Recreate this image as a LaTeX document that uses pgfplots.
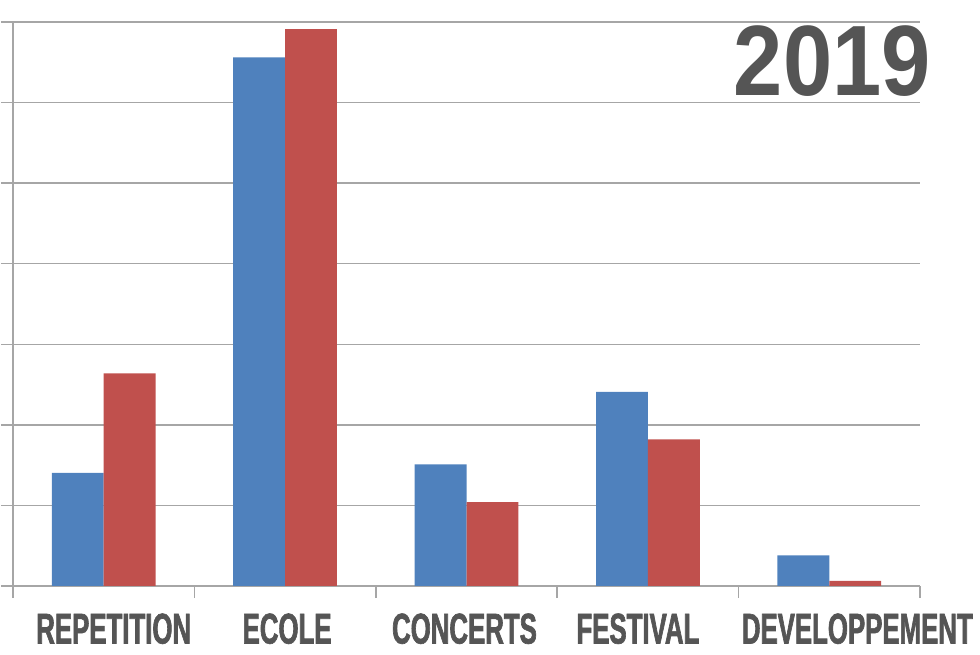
\documentclass[border=0pt]{standalone}
\usepackage{pgfplots}
\pgfplotsset{compat=1.18}
\usepackage{fontspec}
\setmainfont{Liberation Sans}
\newfontfamily\labelfont[FakeStretch=0.6, FakeBold=1.5]{Liberation Sans Bold}
\newfontfamily\titlefont[FakeStretch=0.885]{Liberation Sans}
\definecolor{barblue}{HTML}{4F81BD}
\definecolor{barred}{HTML}{C0504D}
\definecolor{txt}{HTML}{555555}
\definecolor{gridc}{HTML}{A6A6A6}
\begin{document}
\begin{tikzpicture}
\path[use as bounding box] (0bp,0bp) rectangle (980bp,655bp);
\clip (0bp,0bp) rectangle (980bp,655bp);
\begin{axis}[at={(13bp,69bp)}, anchor=south west, scale only axis,
  width=907bp, height=564bp,
  xmin=-0.5, xmax=4.5, ymin=0, ymax=7,
  axis x line*=bottom, axis y line*=left,
  axis line style={gridc, line width=1.5bp},
  ytick={0,1,...,7}, yticklabels={},
  ymajorgrids, grid style={gridc, line width=1.5bp},
  xtick={-0.5,0.5,1.5,2.5,3.5,4.5}, x tick label as interval,
  xticklabels={\hspace*{20bp}REPETITION,\hspace*{4bp}ECOLE,CONCERTS\hspace*{4bp},FESTIVAL\hspace*{20bp},\hspace*{56bp}DEVELOPPEMENT},
  tick align=outside, major tick length=12bp,
  tick style={gridc, line width=1.5bp},
  xticklabel style={font=\labelfont\fontsize{43bp}{43bp}\selectfont, text=txt, yshift=-12bp},
]
\addplot[ybar, fill=barblue, draw=none, bar width=0.286, bar shift=-0.143]
  coordinates {(0,1.405) (1,6.56) (2,1.51) (3,2.41) (4,0.38)};
\addplot[ybar, fill=barred, draw=none, bar width=0.286, bar shift=0.143]
  coordinates {(0,2.64) (1,6.91) (2,1.04) (3,1.82) (4,0.065)};
\end{axis}
\node[anchor=north east, inner sep=0pt, text=txt,
  font=\titlefont\bfseries\fontsize{100bp}{100bp}\selectfont] at (931bp,630bp) {2019};
\end{tikzpicture}
\end{document}
